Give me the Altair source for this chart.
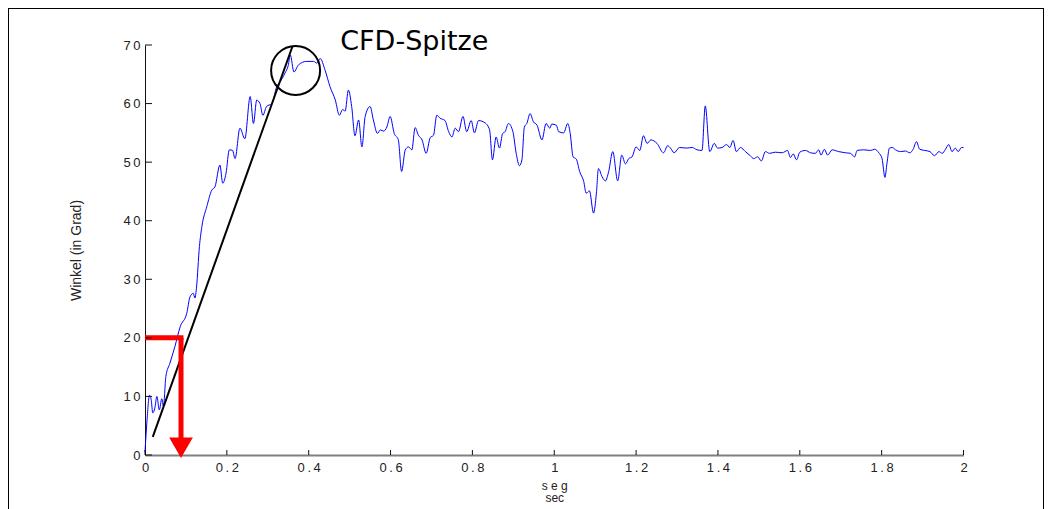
import altair as alt
import pandas as pd

# Blue curve: time (sec) and angle (degrees)
t = [0.000, 0.005, 0.011, 0.015, 0.019, 0.024, 0.029, 0.035, 0.041, 0.045,
     0.051, 0.061, 0.073, 0.086, 0.102, 0.110, 0.118, 0.122, 0.126, 0.133,
     0.139, 0.151, 0.163, 0.171, 0.183, 0.190, 0.198, 0.206, 0.214, 0.220,
     0.232, 0.244, 0.257, 0.265, 0.273, 0.281, 0.288, 0.297, 0.310, 0.322,
     0.330, 0.342, 0.350, 0.355, 0.364, 0.375, 0.395, 0.412, 0.420, 0.428,
     0.440, 0.452, 0.465, 0.475, 0.483, 0.489, 0.497, 0.505, 0.513, 0.522,
     0.530, 0.538, 0.550, 0.558, 0.568, 0.575, 0.583, 0.591, 0.599, 0.609,
     0.619, 0.627, 0.636, 0.644, 0.652, 0.660, 0.668, 0.677, 0.687, 0.697,
     0.705, 0.713, 0.721, 0.733, 0.742, 0.750, 0.758, 0.766, 0.777, 0.786,
     0.797, 0.805, 0.815, 0.831, 0.842, 0.849, 0.858, 0.866, 0.874, 0.880,
     0.888, 0.899, 0.907, 0.915, 0.921, 0.927, 0.933, 0.941, 0.949, 0.958,
     0.970, 0.980, 0.989, 0.994, 1.005, 1.011, 1.023, 1.033, 1.039, 1.046,
     1.054, 1.062, 1.072, 1.078, 1.086, 1.096, 1.103, 1.108, 1.117, 1.125,
     1.133, 1.143, 1.155, 1.165, 1.174, 1.182, 1.190, 1.200, 1.209, 1.218,
     1.227, 1.236, 1.251, 1.267, 1.277, 1.284, 1.293, 1.306, 1.323, 1.337,
     1.349, 1.361, 1.369, 1.380, 1.391, 1.399, 1.410, 1.421, 1.429, 1.437,
     1.445, 1.455, 1.467, 1.479, 1.487, 1.497, 1.506, 1.516, 1.526, 1.540,
     1.557, 1.570, 1.577, 1.584, 1.592, 1.600, 1.614, 1.626, 1.638, 1.646,
     1.652, 1.660, 1.668, 1.679, 1.695, 1.711, 1.724, 1.734, 1.740, 1.756,
     1.773, 1.783, 1.793, 1.801, 1.808, 1.813, 1.819, 1.826, 1.834, 1.846,
     1.858, 1.869, 1.877, 1.885, 1.893, 1.905, 1.918, 1.929, 1.940, 1.948,
     1.956, 1.964, 1.972, 1.980, 1.987, 1.995, 2.000]
angle = [0.5, 6.0, 10.2, 9.5, 7.2, 8.0, 10.0, 7.7, 9.6, 8.3,
         13.4, 15.7, 18.5, 21.9, 24.2, 27.0, 27.6, 26.8, 28.7, 35.6,
         39.0, 42.4, 45.2, 45.8, 49.5, 46.4, 48.1, 52.1, 52.0, 50.6,
         55.8, 54.0, 61.2, 56.6, 60.6, 60.0, 58.0, 59.5, 60.0, 62.9,
         63.7, 65.2, 66.5, 68.3, 65.4, 66.6, 67.2, 67.2, 66.9, 67.7,
         65.7, 62.9, 60.6, 58.0, 59.0, 58.7, 62.3, 59.5, 54.5, 57.2,
         52.6, 57.8, 59.5, 57.2, 54.9, 55.5, 55.3, 56.0, 57.8, 54.9,
         53.8, 48.4, 52.1, 52.6, 52.1, 55.9, 54.6, 53.8, 51.5, 54.2,
         54.6, 58.0, 57.5, 57.1, 55.2, 54.3, 55.8, 55.2, 57.8, 55.2,
         57.1, 55.0, 57.1, 56.7, 55.5, 50.4, 54.3, 52.4, 54.9, 55.2,
         56.6, 55.2, 51.5, 49.4, 50.4, 56.0, 56.6, 58.3, 56.9, 56.3,
         53.8, 56.6, 55.8, 56.5, 56.3, 55.2, 55.0, 56.6, 54.9, 50.9,
         50.5, 48.4, 46.7, 44.7, 45.1, 41.3, 44.7, 48.9, 47.5, 46.8,
         48.4, 51.8, 46.8, 51.2, 49.7, 50.6, 50.9, 52.6, 52.0, 54.5,
         53.2, 53.8, 53.2, 51.6, 52.8, 52.4, 51.6, 52.5, 52.4, 52.5,
         52.1, 52.0, 59.6, 51.8, 53.2, 52.4, 52.5, 53.0, 52.5, 53.7,
         51.8, 52.5, 51.8, 51.1, 50.6, 50.9, 50.2, 51.8, 51.5, 51.7,
         51.6, 52.0, 50.8, 51.4, 50.4, 51.7, 52.0, 51.6, 51.5, 52.1,
         51.2, 52.2, 51.2, 52.1, 51.8, 51.6, 51.5, 50.9, 52.0, 52.1,
         52.0, 52.2, 51.6, 50.6, 47.4, 49.8, 52.4, 52.5, 52.1, 51.8,
         51.9, 51.6, 52.2, 53.5, 52.2, 52.0, 51.8, 51.1, 51.8, 51.5,
         52.2, 53.0, 51.8, 52.4, 51.8, 52.5, 52.5]

# Tick values
y_ticks = [0, 10, 20, 30, 40, 50, 60, 70]
x_ticks = [0, 0.2, 0.4, 0.6, 0.8, 1, 1.2, 1.4, 1.6, 1.8, 2]

# Black slope line (start, end)
slope_t = [0.019, 0.360]
slope_v = [3.1, 69.7]

# Circle around the peak
peak_t = [0.368]
peak_v = [65.65]

# Red marker: level 20 deg, drop at t=0.088
red_level = [20]
red_h_t = [0.0, 0.094]
red_drop_t = [0.088]
red_drop_end = [2.6]
red_head_v = [1.25]

# Annotation text
ann_text = ["CFD-Spitze"]
ann_t = [0.477]
ann_v = [69.15]

x_scale = alt.Scale(domain=[0, 2], range=[137, 955.5], nice=False, zero=False)
y_scale = alt.Scale(domain=[0, 70], range=[447, 37], nice=False, zero=False)

W = 1036
H = 505

spaced = "join(split(toString(datum.value), ''), '\u2009')"

x_axis = alt.Axis(
    orient="bottom", offset=447 - H, values=x_ticks,
    domainColor="#808080", domainWidth=2,
    ticks=False, tickSize=0, grid=False,
    labelPadding=6, labelFont="Liberation Sans", labelFontSize=13,
    labelColor="#222222", labelExpr=spaced, labelFlush=False,
    labelOverlap=False,
    title=["s e g", "sec"], titleFont="Liberation Sans", titleFontSize=12,
    titleFontWeight="normal", titleColor="#222222",
    titleY=25, titleBaseline="top", titleLineHeight=12.5,
)
y_axis = alt.Axis(
    orient="left", offset=-137, values=y_ticks,
    domainColor="#111111", domainWidth=1,
    ticks=False, tickSize=0, grid=False,
    labelPadding=5, labelFont="Liberation Sans", labelFontSize=13,
    labelColor="#222222", labelExpr=spaced, labelOverlap=False,
    title="Winkel (in Grad)", titleFont="Liberation Sans", titleFontSize=14,
    titleFontWeight="normal", titleColor="#222222",
    titleX=-65, titleBaseline="alphabetic",
)


def X(field):
    return alt.X(field, scale=x_scale, axis=x_axis)


def Y(field):
    return alt.Y(field, scale=y_scale, axis=y_axis)


curve_df = pd.DataFrame({"t": t, "v": angle})
line = alt.Chart(curve_df).mark_line(
    color="#0000ff", strokeWidth=1, interpolate="monotone"
).encode(x=X("t:Q"), y=Y("v:Q"))

ytick_df = pd.DataFrame({"v": y_ticks, "t": [0] * len(y_ticks)})
yticks = alt.Chart(ytick_df).mark_rule(color="#111111", strokeWidth=1, x2Offset=7).encode(
    x=X("t:Q"), x2="t:Q", y=Y("v:Q"),
)

xtick_df = pd.DataFrame({"t": x_ticks, "v": [0] * len(x_ticks)})
xticks = alt.Chart(xtick_df).mark_rule(color="#111111", strokeWidth=1, y2Offset=-5).encode(
    x=X("t:Q"), y=Y("v:Q"), y2="v:Q",
)

slope_df = pd.DataFrame({"t": [slope_t[0]], "v": [slope_v[0]],
                         "t2": [slope_t[1]], "v2": [slope_v[1]]})
slope = alt.Chart(slope_df).mark_rule(color="black", strokeWidth=2).encode(
    x=X("t:Q"), x2="t2:Q", y=Y("v:Q"), y2="v2:Q",
)

peak_df = pd.DataFrame({"t": peak_t, "v": peak_v})
peak = alt.Chart(peak_df).mark_point(
    shape="circle", size=2401, filled=False, color="black", strokeWidth=2, opacity=1
).encode(x=X("t:Q"), y=Y("v:Q"))

red_h_df = pd.DataFrame({"t": [red_h_t[0]], "t2": [red_h_t[1]], "v": red_level})
red_h = alt.Chart(red_h_df).mark_rule(color="#ff0000", strokeWidth=5).encode(
    x=X("t:Q"), x2="t2:Q", y=Y("v:Q"),
)

red_v_df = pd.DataFrame({"t": red_drop_t, "v": red_level, "v2": red_drop_end})
red_v = alt.Chart(red_v_df).mark_rule(color="#ff0000", strokeWidth=5).encode(
    x=X("t:Q"), y=Y("v:Q"), y2="v2:Q",
)

red_head_df = pd.DataFrame({"t": red_drop_t, "v": red_head_v})
red_head = alt.Chart(red_head_df).mark_point(
    shape="triangle-down", size=560, filled=True, color="#ff0000", opacity=1
).encode(x=X("t:Q"), y=Y("v:Q"))

ann_df = pd.DataFrame({"t": ann_t, "v": ann_v, "label": ann_text})
ann = alt.Chart(ann_df).mark_text(
    font="DejaVu Sans", fontSize=27, align="left", baseline="alphabetic", color="black"
).encode(x=X("t:Q"), y=Y("v:Q"), text="label:N")

chart = alt.layer(line, slope, peak, red_h, red_v, red_head, yticks, xticks, ann).properties(
    width=W, height=H, padding=0, background="white"
).configure_view(
    stroke="black", strokeWidth=2
)

chart.save("out.html", embed_options={"renderer": "svg", "actions": False})
